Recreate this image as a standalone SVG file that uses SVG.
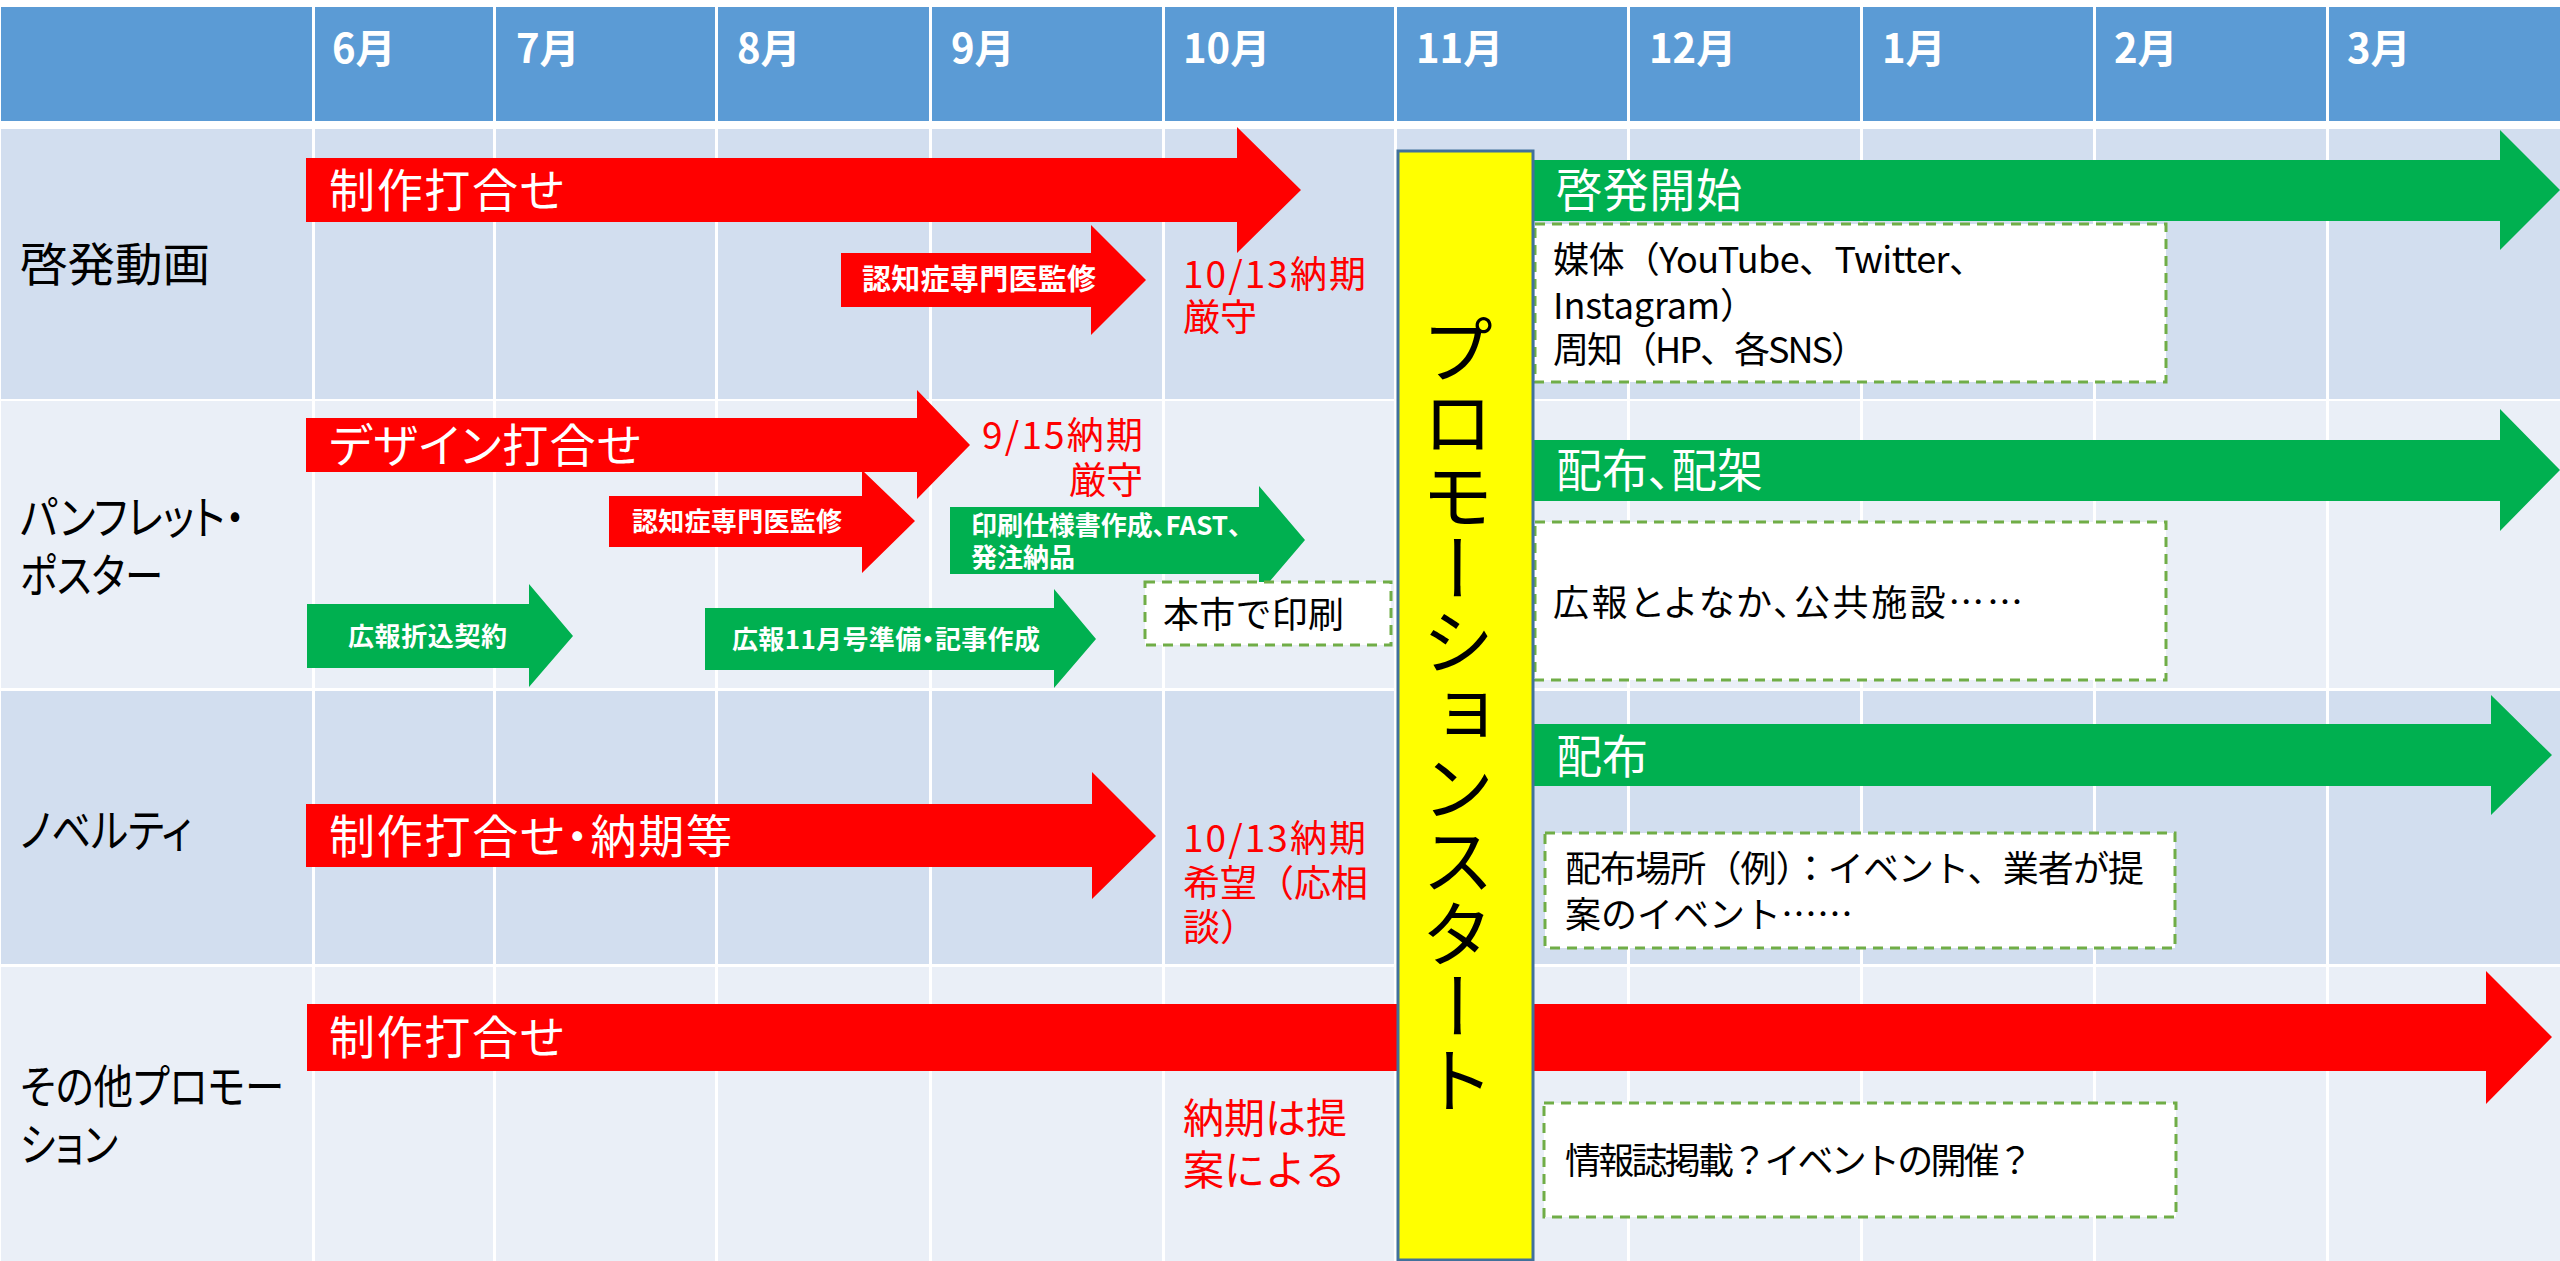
<svg xmlns="http://www.w3.org/2000/svg" width="2560" height="1261" viewBox="0 0 2560 1261">
<style>
text{font-family:"Noto Sans CJK JP","Noto Sans",sans-serif;font-feature-settings:"palt" 1;}
.mon{fill:#fff;font-size:40px;font-weight:bold;}
.lbl{fill:#000;font-size:46px;}
.big{fill:#fff;font-size:46px;}
.sm{fill:#fff;font-size:27px;font-weight:bold;}
.red{fill:#f00;font-size:37px;font-feature-settings:normal;}
.box{fill:#000;font-size:36px;font-feature-settings:normal;}
.ra{fill:#f00;}
.ga{fill:#00b050;}
.db{fill:#fff;stroke:#70ad47;stroke-width:3;stroke-dasharray:10 7;}
.vl{fill:#fff;}
</style>
<rect width="2560" height="1261" fill="#fff"/>
<g id="table">
<rect x="1" y="7" width="2559" height="114" fill="#5b9bd5"/>
<rect x="1" y="129" width="2559" height="270" fill="#d2deef"/>
<rect x="1" y="401" width="2559" height="287" fill="#eaeff7"/>
<rect x="1" y="691" width="2559" height="273" fill="#d2deef"/>
<rect x="1" y="967" width="2559" height="294" fill="#eaeff7"/>
<rect class="vl" x="312" y="0" width="3" height="1261"/>
<rect class="vl" x="493" y="0" width="3" height="1261"/>
<rect class="vl" x="715" y="0" width="3" height="1261"/>
<rect class="vl" x="929" y="0" width="3" height="1261"/>
<rect class="vl" x="1162" y="0" width="3" height="1261"/>
<rect class="vl" x="1394" y="0" width="3" height="1261"/>
<rect class="vl" x="1627" y="0" width="3" height="1261"/>
<rect class="vl" x="1860" y="0" width="3" height="1261"/>
<rect class="vl" x="2093" y="0" width="3" height="1261"/>
<rect class="vl" x="2326" y="0" width="3" height="1261"/>
</g>
<g id="header">
<text class="mon" x="332" y="63">6月</text>
<text class="mon" x="516" y="63">7月</text>
<text class="mon" x="737" y="63">8月</text>
<text class="mon" x="951" y="63">9月</text>
<text class="mon" x="1183" y="63">10月</text>
<text class="mon" x="1416" y="63">11月</text>
<text class="mon" x="1649" y="63">12月</text>
<text class="mon" x="1882" y="63">1月</text>
<text class="mon" x="2114" y="63">2月</text>
<text class="mon" x="2347" y="63">3月</text>
</g>
<g id="row-labels">
<text class="lbl" x="20" y="281" textLength="190" lengthAdjust="spacingAndGlyphs">啓発動画</text>
<text class="lbl" x="20" y="534" textLength="225" lengthAdjust="spacingAndGlyphs">パンフレット・</text>
<text class="lbl" x="20" y="592" textLength="143" lengthAdjust="spacingAndGlyphs">ポスター</text>
<text class="lbl" x="20" y="847" textLength="172" lengthAdjust="spacingAndGlyphs">ノベルティ</text>
<text class="lbl" x="20" y="1103" textLength="264" lengthAdjust="spacingAndGlyphs">その他プロモー</text>
<text class="lbl" x="20" y="1161" textLength="98" lengthAdjust="spacingAndGlyphs">ション</text>
</g>
<g id="connectors">
<polygon id="arrow-r1a" class="ra" points="306,158 1237,158 1237,127 1301,190 1237,253 1237,222 306,222"/>
<polygon id="arrow-r1b" class="ra" points="841,253 1091,253 1091,225 1146,280 1091,335 1091,307 841,307"/>
<polygon id="arrow-g1" class="ga" points="1533,160 2500,160 2500,130 2560,190 2500,250 2500,221 1533,221"/>
<polygon id="arrow-r2a" class="ra" points="306,418 917,418 917,390 970,445 917,499 917,472 306,472"/>
<polygon id="arrow-r2b" class="ra" points="609,496 862,496 862,470 915,521 862,573 862,547 609,547"/>
<polygon id="arrow-g2a" class="ga" points="950,507 1259,507 1259,486 1305,540 1259,594 1259,574 950,574"/>
<polygon id="arrow-g2b" class="ga" points="307,604 529,604 529,584 573,636 529,687 529,668 307,668"/>
<polygon id="arrow-g2c" class="ga" points="705,608 1054,608 1054,589 1096,639 1054,688 1054,670 705,670"/>
<polygon id="arrow-g2d" class="ga" points="1533,440 2500,440 2500,409 2560,470 2500,531 2500,501 1533,501"/>
<polygon id="arrow-r3" class="ra" points="306,804 1092,804 1092,772 1156,836 1092,899 1092,867 306,867"/>
<polygon id="arrow-g3" class="ga" points="1533,724 2491,724 2491,695 2552,755 2491,815 2491,786 1533,786"/>
<polygon id="arrow-r4" class="ra" points="307,1004 2486,1004 2486,971 2552,1037 2486,1104 2486,1071 307,1071"/>
</g>
<g id="arrow-labels">
<text class="big" x="329" y="207" textLength="235">制作打合せ</text>
<text class="sm" x="862" y="290" style="font-size:29px" textLength="234">認知症専門医監修</text>
<text class="big" x="1556" y="207" textLength="186">啓発開始</text>
<text class="big" x="329" y="462" textLength="312">デザイン打合せ</text>
<text class="sm" x="632" y="531" style="font-size:26px" textLength="210">認知症専門医監修</text>
<text class="sm" x="971" y="535" style="font-size:26px" textLength="270">印刷仕様書作成、FAST、</text>
<text class="sm" x="971" y="567" style="font-size:26px">発注納品</text>
<text class="sm" x="348" y="646" style="font-size:26px" textLength="159">広報折込契約</text>
<text class="sm" x="732" y="649" style="font-size:26px" textLength="308">広報11月号準備・記事作成</text>
<text class="big" x="1556" y="487">配布、配架</text>
<text class="big" x="329" y="853" textLength="403">制作打合せ・納期等</text>
<text class="big" x="1556" y="773">配布</text>
<text class="big" x="329" y="1054" textLength="235">制作打合せ</text>
</g>
<g id="deadlines">
<text class="red" x="1183" y="288" textLength="183">10/13納期</text>
<text class="red" x="1183" y="331">厳守</text>
<text class="red" x="982" y="449" textLength="161">9/15納期</text>
<text class="red" x="1143" y="494" text-anchor="end">厳守</text>
<text class="red" x="1183" y="852" textLength="183">10/13納期</text>
<text class="red" x="1183" y="897" textLength="185">希望（応相</text>
<text class="red" x="1183" y="941">談）</text>
<text class="red" x="1183" y="1133" style="font-size:41px">納期は提</text>
<text class="red" x="1183" y="1185" style="font-size:41px">案による</text>
</g>
<g id="note-media">
<rect class="db" x="1535" y="224" width="631" height="158"/>
<text class="box" x="1553" y="273" textLength="432">媒体（YouTube、Twitter、</text>
<text class="box" x="1553" y="319" textLength="203">Instagram）</text>
<text class="box" x="1553" y="363" textLength="314">周知（HP、各SNS）</text>
</g>
<g id="note-print">
<rect class="db" x="1145" y="582" width="246" height="63"/>
<text class="box" x="1163" y="628" textLength="181">本市で印刷</text>
</g>
<g id="note-distribution">
<rect class="db" x="1535" y="522" width="631" height="158"/>
<text class="box" x="1553" y="616" textLength="470" style="font-feature-settings:'palt' 1">広報とよなか、公共施設……</text>
</g>
<g id="note-novelty">
<rect class="db" x="1545" y="833" width="630" height="115"/>
<text class="box" x="1565" y="882" textLength="579">配布場所（例）：イベント、業者が提</text>
<text class="box" x="1565" y="928" textLength="288">案のイベント……</text>
</g>
<g id="note-other">
<rect class="db" x="1544" y="1103" width="632" height="114"/>
<text class="box" x="1565" y="1174" textLength="468">情報誌掲載？イベントの開催？</text>
</g>
<g id="promotion-start">
<rect x="1398" y="151" width="135" height="1109" fill="#ffff00" stroke="#41719c" stroke-width="3"/>
<text x="1458" y="313" style="writing-mode:vertical-rl;font-size:73px;fill:#000;font-feature-settings:normal">プロモーションスタート</text>
</g>
</svg>
